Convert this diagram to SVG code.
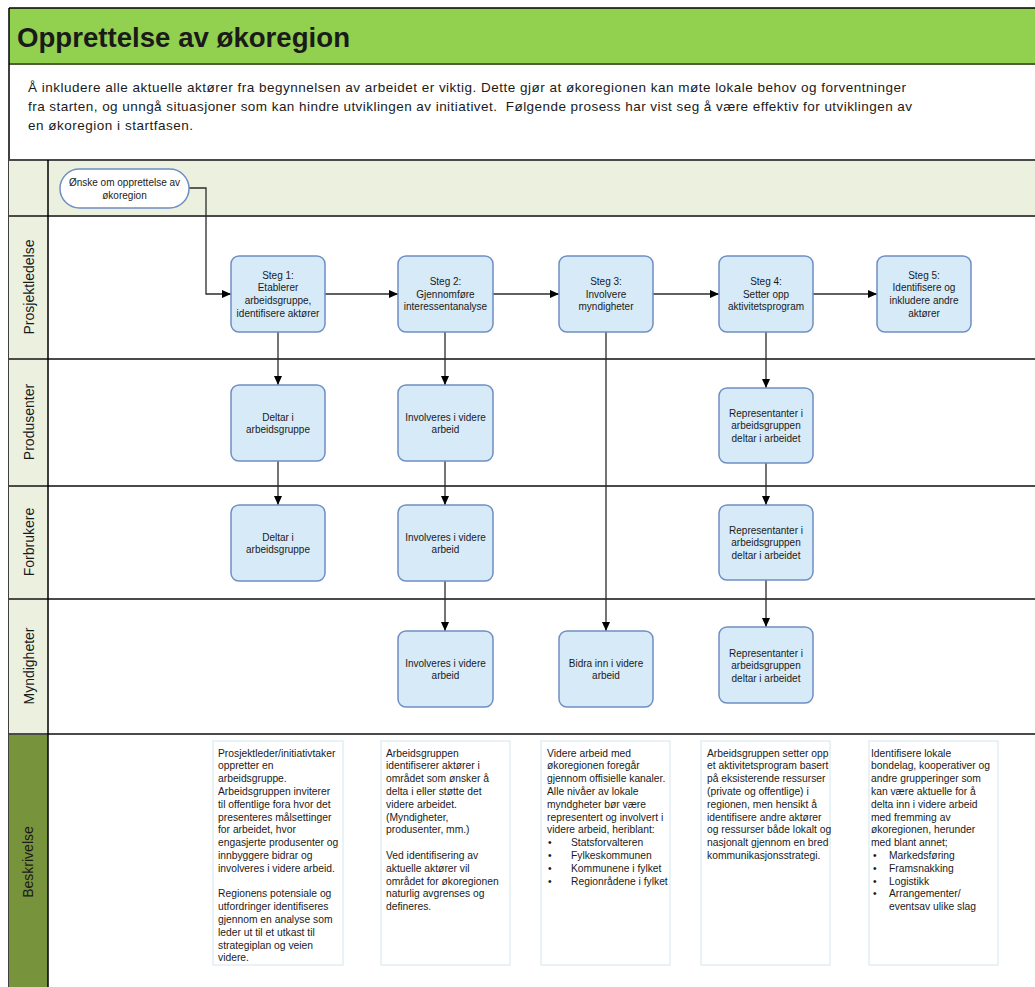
<svg xmlns="http://www.w3.org/2000/svg" width="1035" height="987" viewBox="0 0 1035 987">
<style>
.t{font-family:"Liberation Sans",Arial,sans-serif;fill:#1a1a1a}
.bt{font-family:"Liberation Sans",Arial,sans-serif;font-size:10px;fill:#1a1a1a;text-anchor:middle}
.dt{font-family:"Liberation Sans",Arial,sans-serif;font-size:10.3px;fill:#1a1a1a}
.lane{font-family:"Liberation Sans",Arial,sans-serif;font-size:14px;fill:#1a1a1a;text-anchor:middle}
.box{fill:#d6eaf8;stroke:#6f8fc4;stroke-width:1.5}
.desc{fill:#ffffff;stroke:#dbe9ef;stroke-width:1.2}
.div{stroke:#4a4a4a;stroke-width:2}
.con{fill:none;stroke:#2b2b2b;stroke-width:1.3}
</style>
<defs>
<marker id="ah" markerWidth="10" markerHeight="10" refX="9" refY="5" orient="auto" markerUnits="userSpaceOnUse">
<path d="M0,1 L9,5 L0,9 Z" fill="#000"/>
</marker>
</defs>
<rect x="0" y="0" width="1035" height="987" fill="#ffffff"/>
<g id="frame">
<rect x="9" y="8" width="1030" height="56" fill="#92d050"/>
<line x1="9" y1="64" x2="1035" y2="64" stroke="#4f5f3a" stroke-width="2"/>
<line x1="9" y1="8" x2="1035" y2="8" stroke="#000" stroke-width="1.5"/>
<line x1="9" y1="8" x2="9" y2="987" stroke="#000" stroke-width="1.5"/>
<text class="t" x="17" y="47" font-size="28" font-weight="bold" fill="#000" textLength="333" lengthAdjust="spacingAndGlyphs">Opprettelse av økoregion</text>
<text class="t" x="28" y="92" font-size="13.5" textLength="878">Å inkludere alle aktuelle aktører fra begynnelsen av arbeidet er viktig. Dette gjør at økoregionen kan møte lokale behov og forventninger</text>
<text class="t" x="28" y="111" font-size="13.5" textLength="884" xml:space="preserve">fra starten, og unngå situasjoner som kan hindre utviklingen av initiativet.  Følgende prosess har vist seg å være effektiv for utviklingen av</text>
<text class="t" x="28" y="130" font-size="13.5" textLength="165">en økoregion i startfasen.</text>
</g>
<g id="lanes">
<rect x="9" y="160" width="1030" height="56" fill="#ebf1de"/>
<rect x="9" y="216" width="39" height="518" fill="#ebf1de"/>
<rect x="9" y="734" width="39" height="253" fill="#77933c"/>
<line class="div" x1="9" y1="160" x2="1035" y2="160" stroke="#6e6e6e"/>
<line class="div" x1="9" y1="216" x2="1035" y2="216" stroke="#6e6e6e"/>
<line class="div" x1="9" y1="359" x2="1035" y2="359"/>
<line class="div" x1="9" y1="486" x2="1035" y2="486" stroke="#1e1e1e"/>
<line class="div" x1="9" y1="599" x2="1035" y2="599"/>
<line class="div" x1="9" y1="734" x2="1035" y2="734" stroke="#6e6e6e"/>
<line x1="48" y1="160" x2="48" y2="987" stroke="#000" stroke-width="1.5"/>
<text class="lane" transform="translate(34,287) rotate(-90)">Prosjektledelse</text>
<text class="lane" transform="translate(34,422) rotate(-90)">Produsenter</text>
<text class="lane" transform="translate(34,542) rotate(-90)">Forbrukere</text>
<text class="lane" transform="translate(34,666) rotate(-90)">Myndigheter</text>
<text class="lane" font-size="13" transform="translate(33,862) rotate(-90)">Beskrivelse</text>
</g>
<g id="connectors">
<path class="con" d="M189,188 H206 V294 H231" marker-end="url(#ah)"/>
<path class="con" d="M325,294 H398" marker-end="url(#ah)"/>
<path class="con" d="M493,294 H559" marker-end="url(#ah)"/>
<path class="con" d="M653,294 H719" marker-end="url(#ah)"/>
<path class="con" d="M813,294 H877" marker-end="url(#ah)"/>
<path class="con" d="M278,332 V385" marker-end="url(#ah)"/>
<path class="con" d="M278,461 V505" marker-end="url(#ah)"/>
<path class="con" d="M445,332 V385" marker-end="url(#ah)"/>
<path class="con" d="M445,461 V505" marker-end="url(#ah)"/>
<path class="con" d="M445,581 V631" marker-end="url(#ah)"/>
<path class="con" d="M606,332 V631" marker-end="url(#ah)"/>
<path class="con" d="M766,332 V388" marker-end="url(#ah)"/>
<path class="con" d="M766,463 V505" marker-end="url(#ah)"/>
<path class="con" d="M766,580 V627" marker-end="url(#ah)"/>
</g>
<g id="start">
<rect x="60" y="169" width="129" height="39" rx="19.5" fill="#ffffff" stroke="#6f8fc4" stroke-width="1.5"/>
<text class="bt" font-size="9.5" x="124.5" y="185.5">Ønske om opprettelse av</text>
<text class="bt" font-size="9.5" x="124.5" y="199">økoregion</text>
</g>
<g id="s1">
<rect class="box" x="231" y="256" width="94" height="76" rx="8"/>
<text class="bt" x="278" y="278.5">Steg 1:</text>
<text class="bt" x="278" y="291.2">Etablerer</text>
<text class="bt" x="278" y="303.9">arbeidsgruppe,</text>
<text class="bt" x="278" y="316.6">identifisere aktører</text>
</g>
<g id="s2">
<rect class="box" x="398" y="256" width="95" height="76" rx="8"/>
<text class="bt" x="445.5" y="285">Steg 2:</text>
<text class="bt" x="445.5" y="297.5">Gjennomføre</text>
<text class="bt" x="445.5" y="310">interessentanalyse</text>
</g>
<g id="s3">
<rect class="box" x="559" y="256" width="94" height="76" rx="8"/>
<text class="bt" x="606" y="285">Steg 3:</text>
<text class="bt" x="606" y="297.5">Involvere</text>
<text class="bt" x="606" y="310">myndigheter</text>
</g>
<g id="s4">
<rect class="box" x="719" y="256" width="94" height="76" rx="8"/>
<text class="bt" x="766" y="285">Steg 4:</text>
<text class="bt" x="766" y="297.5">Setter opp</text>
<text class="bt" x="766" y="310">aktivitetsprogram</text>
</g>
<g id="s5">
<rect class="box" x="877" y="256" width="94" height="76" rx="8"/>
<text class="bt" x="924" y="278.5">Steg 5:</text>
<text class="bt" x="924" y="291.2">Identifisere og</text>
<text class="bt" x="924" y="303.9">inkludere andre</text>
<text class="bt" x="924" y="316.6">aktører</text>
</g>
<g id="p1">
<rect class="box" x="231" y="385" width="94" height="76" rx="8"/>
<text class="bt" x="278" y="420.5">Deltar i</text>
<text class="bt" x="278" y="433">arbeidsgruppe</text>
</g>
<g id="p2">
<rect class="box" x="398" y="385" width="95" height="76" rx="8"/>
<text class="bt" x="445.5" y="420.5">Involveres i videre</text>
<text class="bt" x="445.5" y="433">arbeid</text>
</g>
<g id="p4">
<rect class="box" x="719" y="388" width="94" height="75" rx="8"/>
<text class="bt" x="766" y="416.5">Representanter i</text>
<text class="bt" x="766" y="429">arbeidsgruppen</text>
<text class="bt" x="766" y="441.5">deltar i arbeidet</text>
</g>
<g id="f1">
<rect class="box" x="231" y="505" width="94" height="76" rx="8"/>
<text class="bt" x="278" y="540.5">Deltar i</text>
<text class="bt" x="278" y="553">arbeidsgruppe</text>
</g>
<g id="f2">
<rect class="box" x="398" y="505" width="95" height="76" rx="8"/>
<text class="bt" x="445.5" y="540.5">Involveres i videre</text>
<text class="bt" x="445.5" y="553">arbeid</text>
</g>
<g id="f4">
<rect class="box" x="719" y="505" width="94" height="75" rx="8"/>
<text class="bt" x="766" y="533.5">Representanter i</text>
<text class="bt" x="766" y="546">arbeidsgruppen</text>
<text class="bt" x="766" y="558.5">deltar i arbeidet</text>
</g>
<g id="m2">
<rect class="box" x="398" y="631" width="95" height="76" rx="8"/>
<text class="bt" x="445.5" y="666.5">Involveres i videre</text>
<text class="bt" x="445.5" y="679">arbeid</text>
</g>
<g id="m3">
<rect class="box" x="559" y="631" width="94" height="76" rx="8"/>
<text class="bt" x="606" y="666.5">Bidra inn i videre</text>
<text class="bt" x="606" y="679">arbeid</text>
</g>
<g id="m4">
<rect class="box" x="719" y="627" width="94" height="76" rx="8"/>
<text class="bt" x="766" y="656.5">Representanter i</text>
<text class="bt" x="766" y="669">arbeidsgruppen</text>
<text class="bt" x="766" y="681.5">deltar i arbeidet</text>
</g>
<g id="d1">
<rect class="desc" x="213" y="741" width="130" height="224"/>
<text class="dt" x="218" y="756.5">Prosjektleder/initiativtaker</text>
<text class="dt" x="218" y="769.3">oppretter en</text>
<text class="dt" x="218" y="782.1">arbeidsgruppe.</text>
<text class="dt" x="218" y="794.9">Arbeidsgruppen inviterer</text>
<text class="dt" x="218" y="807.7">til offentlige fora hvor det</text>
<text class="dt" x="218" y="820.5">presenteres målsettinger</text>
<text class="dt" x="218" y="833.3">for arbeidet, hvor</text>
<text class="dt" x="218" y="846.1">engasjerte produsenter og</text>
<text class="dt" x="218" y="858.9">innbyggere bidrar og</text>
<text class="dt" x="218" y="871.7">involveres i videre arbeid.</text>
<text class="dt" x="218" y="897.3">Regionens potensiale og</text>
<text class="dt" x="218" y="910.1">utfordringer identifiseres</text>
<text class="dt" x="218" y="922.9">gjennom en analyse som</text>
<text class="dt" x="218" y="935.7">leder ut til et utkast til</text>
<text class="dt" x="218" y="948.5">strategiplan og veien</text>
<text class="dt" x="218" y="961.3">videre.</text>
</g>
<g id="d2">
<rect class="desc" x="381" y="741" width="129" height="224"/>
<text class="dt" x="386" y="756.5">Arbeidsgruppen</text>
<text class="dt" x="386" y="769.3">identifiserer aktører i</text>
<text class="dt" x="386" y="782.1">området som ønsker å</text>
<text class="dt" x="386" y="794.9">delta i eller støtte det</text>
<text class="dt" x="386" y="807.7">videre arbeidet.</text>
<text class="dt" x="386" y="820.5">(Myndigheter,</text>
<text class="dt" x="386" y="833.3">produsenter, mm.)</text>
<text class="dt" x="386" y="858.9">Ved identifisering av</text>
<text class="dt" x="386" y="871.7">aktuelle aktører vil</text>
<text class="dt" x="386" y="884.5">området for økoregionen</text>
<text class="dt" x="386" y="897.3">naturlig avgrenses og</text>
<text class="dt" x="386" y="910.1">defineres.</text>
</g>
<g id="d3">
<rect class="desc" x="541" y="741" width="129" height="224"/>
<text class="dt" x="547" y="756.5">Videre arbeid med</text>
<text class="dt" x="547" y="769.3">økoregionen foregår</text>
<text class="dt" x="547" y="782.1">gjennom offisielle kanaler.</text>
<text class="dt" x="547" y="794.9">Alle nivåer av lokale</text>
<text class="dt" x="547" y="807.7">myndgheter bør være</text>
<text class="dt" x="547" y="820.5">representert og involvert i</text>
<text class="dt" x="547" y="833.3">videre arbeid, heriblant:</text>
<text class="dt" x="548" y="846.1">•</text><text class="dt" x="571" y="846.1">Statsforvalteren</text>
<text class="dt" x="548" y="858.9">•</text><text class="dt" x="571" y="858.9">Fylkeskommunen</text>
<text class="dt" x="548" y="871.7">•</text><text class="dt" x="571" y="871.7">Kommunene i fylket</text>
<text class="dt" x="548" y="884.5">•</text><text class="dt" x="571" y="884.5">Regionrådene i fylket</text>
</g>
<g id="d4">
<rect class="desc" x="701" y="741" width="129" height="224"/>
<text class="dt" x="707" y="756.5">Arbeidsgruppen setter opp</text>
<text class="dt" x="707" y="769.3">et aktivitetsprogram basert</text>
<text class="dt" x="707" y="782.1">på eksisterende ressurser</text>
<text class="dt" x="707" y="794.9">(private og offentlige) i</text>
<text class="dt" x="707" y="807.7">regionen, men hensikt å</text>
<text class="dt" x="707" y="820.5">identifisere andre aktører</text>
<text class="dt" x="707" y="833.3">og ressurser både lokalt og</text>
<text class="dt" x="707" y="846.1">nasjonalt gjennom en bred</text>
<text class="dt" x="707" y="858.9">kommunikasjonsstrategi.</text>
</g>
<g id="d5">
<rect class="desc" x="869" y="741" width="129" height="224"/>
<text class="dt" x="871" y="756.5">Identifisere lokale</text>
<text class="dt" x="871" y="769.3">bondelag, kooperativer og</text>
<text class="dt" x="871" y="782.1">andre grupperinger som</text>
<text class="dt" x="871" y="794.9">kan være aktuelle for å</text>
<text class="dt" x="871" y="807.7">delta inn i videre arbeid</text>
<text class="dt" x="871" y="820.5">med fremming av</text>
<text class="dt" x="871" y="833.3">økoregionen, herunder</text>
<text class="dt" x="871" y="846.1">med blant annet;</text>
<text class="dt" x="873" y="858.9">•</text><text class="dt" x="889" y="858.9">Markedsføring</text>
<text class="dt" x="873" y="871.7">•</text><text class="dt" x="889" y="871.7">Framsnakking</text>
<text class="dt" x="873" y="884.5">•</text><text class="dt" x="889" y="884.5">Logistikk</text>
<text class="dt" x="873" y="897.3">•</text><text class="dt" x="889" y="897.3">Arrangementer/</text>
<text class="dt" x="889" y="910.1">eventsav ulike slag</text>
</g>
</svg>
